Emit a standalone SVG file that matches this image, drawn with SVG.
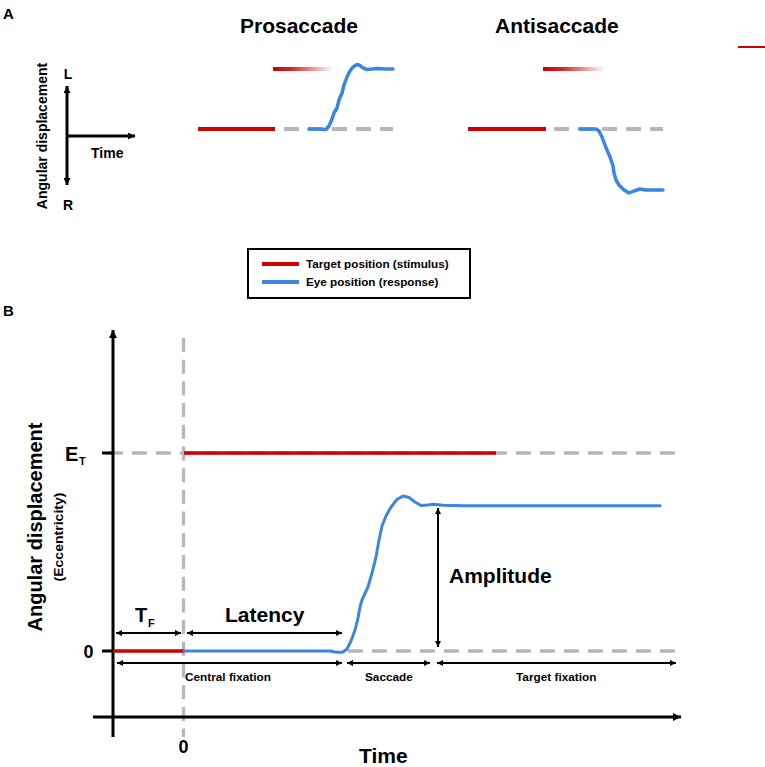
<svg xmlns="http://www.w3.org/2000/svg" width="765" height="767" viewBox="0 0 765 767">
<defs>
<style>
text{font-family:"Liberation Sans",Arial,Helvetica,sans-serif;font-weight:bold;fill:#000}
.red{stroke:#cc0000;fill:none}
.blue{stroke:#3a86e0;fill:none;stroke-linejoin:round;stroke-linecap:round}
.gray{stroke:#b8b8b8;fill:none;stroke-dasharray:15 9}
.ax{stroke:#000;fill:none}
</style>
<linearGradient id="fade" x1="0" y1="0" x2="1" y2="0">
<stop offset="0" stop-color="#cc0000" stop-opacity="1"/>
<stop offset="0.3" stop-color="#cc0000" stop-opacity="0.85"/>
<stop offset="1" stop-color="#cc0000" stop-opacity="0"/>
</linearGradient>
<marker id="ahA" viewBox="0 0 10 10" refX="10" refY="5" markerWidth="10" markerHeight="7" markerUnits="userSpaceOnUse" orient="auto-start-reverse"><path d="M0,0 L10,5 L0,10 z" fill="#000"/></marker>
<marker id="ahB" viewBox="0 0 10 10" refX="10" refY="5" markerWidth="7" markerHeight="6" markerUnits="userSpaceOnUse" orient="auto-start-reverse"><path d="M0,0 L10,5 L0,10 z" fill="#000"/></marker>
<marker id="ahM" viewBox="0 0 10 10" refX="10" refY="5" markerWidth="11" markerHeight="8" markerUnits="userSpaceOnUse" orient="auto-start-reverse"><path d="M0,0 L10,5 L0,10 z" fill="#000"/></marker>
</defs>
<rect width="765" height="767" fill="#fff"/>

<!-- Panel A -->
<g id="panelA">
<text x="3" y="19" font-size="15">A</text>
<text x="240" y="33" font-size="21">Prosaccade</text>
<text x="495" y="33" font-size="21">Antisaccade</text>
<line x1="738" y1="47" x2="765" y2="47" class="red" stroke-width="2"/>

<g id="axesA">
<line x1="67" y1="136" x2="67" y2="86" class="ax" stroke-width="3" marker-end="url(#ahA)"/>
<line x1="67" y1="136" x2="67" y2="185" class="ax" stroke-width="3" marker-end="url(#ahA)"/>
<line x1="66" y1="136" x2="135" y2="136" class="ax" stroke-width="3" marker-end="url(#ahA)"/>
<text x="68" y="79" font-size="14" text-anchor="middle">L</text>
<text x="68" y="210" font-size="14" text-anchor="middle">R</text>
<text x="91" y="158" font-size="14">Time</text>
<text transform="translate(47,136) rotate(-90)" font-size="14" text-anchor="middle">Angular displacement</text>
</g>

<g id="prosaccade">
<line x1="198" y1="129" x2="275" y2="129" class="red" stroke-width="4"/>
<rect x="273" y="67" width="60" height="4" fill="url(#fade)"/>
<line x1="284" y1="129" x2="393" y2="129" class="gray" stroke-width="4"/>
<path class="blue" stroke-width="3.5" d="M309,129 L318,129 L326,129.5 L329,126 L332,119 L334,113 L337,108 L339,100 L342,93 L344,85 L347,77 L350,71 L353,67 L357,64.5 L360,65.5 L363,68 L367,69.5 L372,69 L378,68.5 L385,69 L393,69"/>
</g>

<g id="antisaccade">
<line x1="468" y1="129" x2="546" y2="129" class="red" stroke-width="4"/>
<rect x="543" y="67" width="62" height="4" fill="url(#fade)"/>
<line x1="554" y1="129" x2="663" y2="129" class="gray" stroke-width="4"/>
<path class="blue" stroke-width="3.5" d="M580,129 L596,129 L599,131 L602,137 L605,145 L607,150 L610,157 L613,166 L614,173 L616,180 L619,185 L624,190 L629,193 L634,191 L640,189 L646,190 L663,190"/>
</g>
</g>

<!-- Legend -->
<g id="legend">
<rect x="248" y="249" width="222" height="49" fill="none" stroke="#000" stroke-width="2"/>
<line x1="262" y1="264" x2="299" y2="264" class="red" stroke-width="4"/>
<line x1="262" y1="282" x2="299" y2="282" stroke="#3a86e0" stroke-width="4"/>
<text x="306" y="268" font-size="11.7">Target position (stimulus)</text>
<text x="306" y="286" font-size="11.7">Eye position (response)</text>
</g>

<!-- Panel B -->
<g id="panelB">
<text x="3" y="316" font-size="15">B</text>

<g id="guides">
<line x1="183.5" y1="338" x2="183.5" y2="737" stroke="#b8b8b8" stroke-width="3.3" stroke-dasharray="14 7.7"/>
<line x1="108" y1="453" x2="675" y2="453" class="gray" stroke-width="3.3"/>
<line x1="348" y1="651" x2="675" y2="651" class="gray" stroke-width="3.3"/>
</g>

<g id="axesB">
<line x1="113" y1="737" x2="113" y2="330" class="ax" stroke-width="3" marker-end="url(#ahM)"/>
<line x1="93" y1="717" x2="681" y2="717" class="ax" stroke-width="3" marker-end="url(#ahM)"/>
<line x1="102" y1="453" x2="113" y2="453" class="ax" stroke-width="3"/>
<line x1="102" y1="651" x2="113" y2="651" class="ax" stroke-width="3"/>
<text x="65" y="461" font-size="20">E</text>
<text x="79" y="465" font-size="11">T</text>
<text x="88.5" y="658" font-size="18" text-anchor="middle">0</text>
<text x="183.5" y="753" font-size="18" text-anchor="middle">0</text>
<text x="359" y="763" font-size="21">Time</text>
<text transform="translate(42,527) rotate(-90)" font-size="20" text-anchor="middle">Angular displacement</text>
<text transform="translate(63,537) rotate(-90)" font-size="12" text-anchor="middle" textLength="89" lengthAdjust="spacingAndGlyphs">(Eccentricity)</text>
</g>

<g id="traces">
<line x1="113" y1="651" x2="184" y2="651" class="red" stroke-width="3.5"/>
<line x1="184" y1="453" x2="496" y2="453" class="red" stroke-width="3.5"/>
<path class="blue" stroke-width="3" d="M184,651 L330,651 Q337,653 343,652 L347,649 L351,641 L355,630 L358,618 L360,607 L362,600 L368,587 L372,573 L376,557 L379,540 L382,526 L386,516 L391,507 L397,499.5 L403,496 L409,497.5 L415,502 L421,505.5 L428,505 L433,504.3 L443,505.3 L463,505.7 L660,505.7"/>
</g>

<g id="annotations">
<line x1="116" y1="633" x2="181" y2="633" class="ax" stroke-width="2" marker-start="url(#ahB)" marker-end="url(#ahB)"/>
<line x1="187" y1="633" x2="342" y2="633" class="ax" stroke-width="2" marker-start="url(#ahB)" marker-end="url(#ahB)"/>
<line x1="117" y1="663" x2="342" y2="663" class="ax" stroke-width="2" marker-start="url(#ahB)" marker-end="url(#ahB)"/>
<line x1="347" y1="663" x2="430" y2="663" class="ax" stroke-width="2" marker-start="url(#ahB)" marker-end="url(#ahB)"/>
<line x1="437" y1="663" x2="676" y2="663" class="ax" stroke-width="2" marker-start="url(#ahB)" marker-end="url(#ahB)"/>
<line x1="438" y1="508" x2="438" y2="647" class="ax" stroke-width="2" marker-start="url(#ahB)" marker-end="url(#ahB)"/>
<text x="135" y="622" font-size="20">T</text>
<text x="148" y="627" font-size="11">F</text>
<text x="225" y="622" font-size="21">Latency</text>
<text x="449" y="583" font-size="21">Amplitude</text>
<text x="185" y="681" font-size="11.8">Central fixation</text>
<text x="365" y="681" font-size="11.8">Saccade</text>
<text x="516" y="681" font-size="11.8">Target fixation</text>
</g>
</g>
</svg>
